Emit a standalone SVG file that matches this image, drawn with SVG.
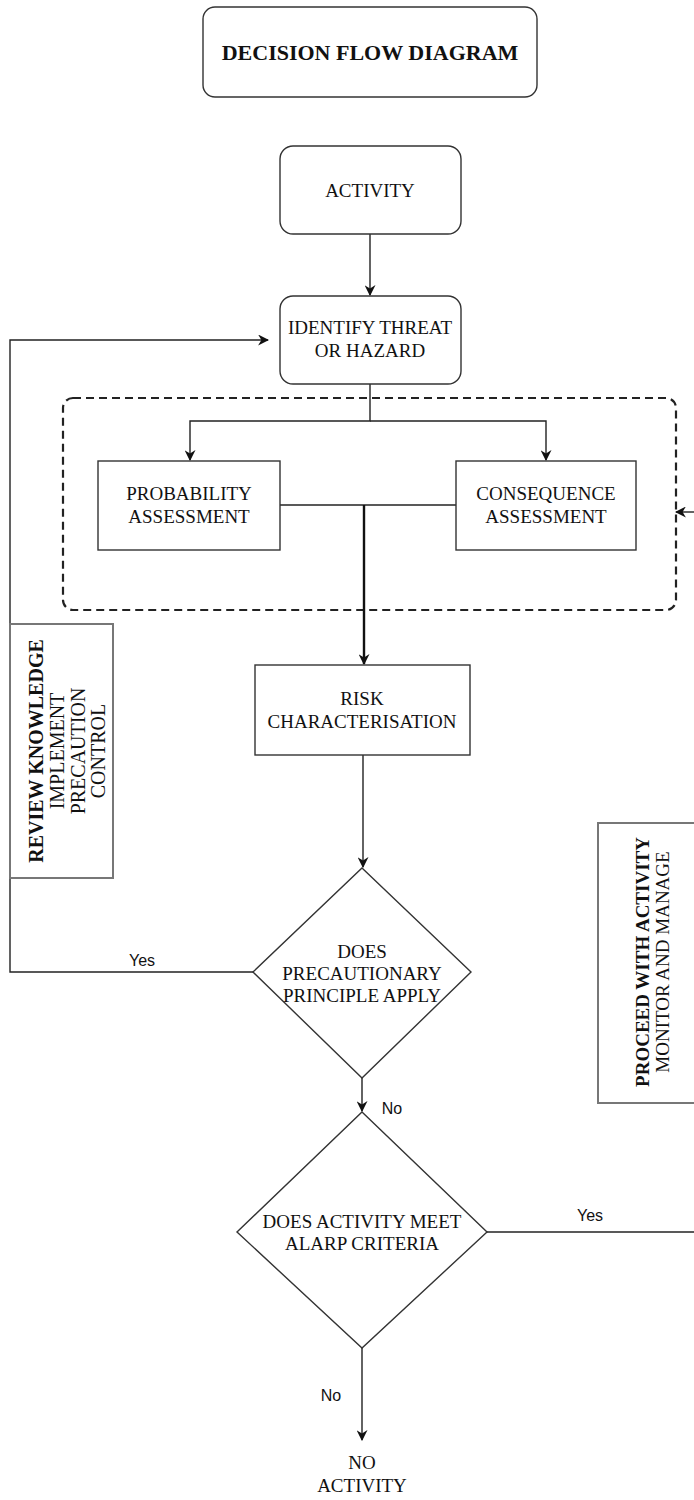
<svg xmlns="http://www.w3.org/2000/svg" width="694" height="1500" viewBox="0 0 694 1500">
<style>
.bg{fill:#fff}
.box{fill:#fff;stroke:#333;stroke-width:1.4}
.gbox{fill:#fff;stroke:#777;stroke-width:2}
.t{font-family:"Liberation Serif","Times New Roman",serif;font-size:19px;fill:#111;text-anchor:middle}
.b{font-weight:bold}
.lab{font-family:"Liberation Sans",Arial,sans-serif;font-size:16px;fill:#111;text-anchor:middle}
.ln{fill:none;stroke:#222;stroke-width:1.4}
.thick{fill:none;stroke:#111;stroke-width:2.4}
.dash{fill:none;stroke:#222;stroke-width:2.2;stroke-dasharray:8 5}
</style>
<defs>
<marker id="ar2" viewBox="0 0 10 10" refX="9" refY="5" markerWidth="11" markerHeight="11" markerUnits="userSpaceOnUse" orient="auto">
<path d="M0,0 L10,5 L0,10 L3,5 z" fill="#111"/>
</marker>
</defs>
<rect class="bg" x="0" y="0" width="694" height="1500"/>

<g id="title">
<rect class="box" x="203" y="7" width="334" height="90" rx="12"/>
<text class="t b" x="370" y="60" style="font-size:22px">DECISION FLOW DIAGRAM</text>
</g>

<g id="group-dashed">
<rect class="dash" x="63" y="398" width="613" height="212" rx="10"/>
</g>

<g id="connectors">
<line class="ln" x1="370" y1="234" x2="370" y2="295" marker-end="url(#ar2)"/>
<polyline class="ln" points="370,384 370,421 190,421 190,460" marker-end="url(#ar2)"/>
<polyline class="ln" points="370,421 546,421 546,460" marker-end="url(#ar2)"/>
<line class="ln" x1="280" y1="505" x2="456" y2="505"/>
<line class="thick" x1="364" y1="505" x2="364" y2="664" marker-end="url(#ar2)"/>
<line class="ln" x1="363" y1="755" x2="363" y2="867" marker-end="url(#ar2)"/>
<polyline class="ln" points="253,972 10,972 10,340 268,340" marker-end="url(#ar2)"/>
<line class="ln" x1="362" y1="1078" x2="362" y2="1111" marker-end="url(#ar2)"/>
<line class="ln" x1="487" y1="1232" x2="700" y2="1232"/>
<line class="ln" x1="362" y1="1348" x2="362" y2="1440" marker-end="url(#ar2)"/>
<line class="ln" x1="700" y1="512" x2="676" y2="512" marker-end="url(#ar2)"/>
<text class="lab" x="142" y="966">Yes</text>
<text class="lab" x="392" y="1114">No</text>
<text class="lab" x="590" y="1221">Yes</text>
<text class="lab" x="331" y="1401">No</text>
</g>

<g id="activity">
<rect class="box" x="280" y="146" width="181" height="88" rx="13"/>
<text class="t" x="370" y="196.5">ACTIVITY</text>
</g>

<g id="identify">
<rect class="box" x="280" y="296" width="181" height="88" rx="13"/>
<text class="t" x="370" y="334">IDENTIFY THREAT</text>
<text class="t" x="370" y="357">OR HAZARD</text>
</g>

<g id="probability">
<rect class="box" x="98" y="461" width="182" height="89"/>
<text class="t" x="189" y="500">PROBABILITY</text>
<text class="t" x="189" y="523">ASSESSMENT</text>
</g>

<g id="consequence">
<rect class="box" x="456" y="461" width="180" height="89"/>
<text class="t" x="546" y="500">CONSEQUENCE</text>
<text class="t" x="546" y="523">ASSESSMENT</text>
</g>

<g id="risk">
<rect class="box" x="255" y="665" width="215" height="90"/>
<text class="t" x="362" y="705">RISK</text>
<text class="t" x="362" y="728">CHARACTERISATION</text>
</g>

<g id="review">
<rect class="gbox" x="10" y="624" width="103" height="254"/>
<text class="t b" x="42.5" y="751" transform="rotate(-90 42.5 751)" style="font-size:20px">REVIEW KNOWLEDGE</text>
<text class="t" x="63.5" y="751" transform="rotate(-90 63.5 751)" style="font-size:20px">IMPLEMENT</text>
<text class="t" x="84.5" y="751" transform="rotate(-90 84.5 751)" style="font-size:20px">PRECAUTION</text>
<text class="t" x="105" y="751" transform="rotate(-90 105 751)" style="font-size:20px">CONTROL</text>
</g>

<g id="decision1">
<polygon class="box" points="362,868 471,972 362,1078 253,972"/>
<text class="t" x="362" y="958">DOES</text>
<text class="t" x="362" y="980">PRECAUTIONARY</text>
<text class="t" x="362" y="1002">PRINCIPLE APPLY</text>
</g>

<g id="proceed">
<rect class="gbox" x="598" y="823" width="110" height="280"/>
<text class="t b" x="648.5" y="962" transform="rotate(-90 648.5 962)">PROCEED WITH ACTIVITY</text>
<text class="t" x="668.5" y="962" transform="rotate(-90 668.5 962)">MONITOR AND MANAGE</text>
</g>

<g id="decision2">
<polygon class="box" points="362,1112 487,1232 362,1348 237,1232"/>
<text class="t" x="362" y="1228">DOES ACTIVITY MEET</text>
<text class="t" x="362" y="1250">ALARP CRITERIA</text>
</g>

<g id="no-activity">
<text class="t" x="362" y="1469">NO</text>
<text class="t" x="362" y="1492">ACTIVITY</text>
</g>
</svg>
